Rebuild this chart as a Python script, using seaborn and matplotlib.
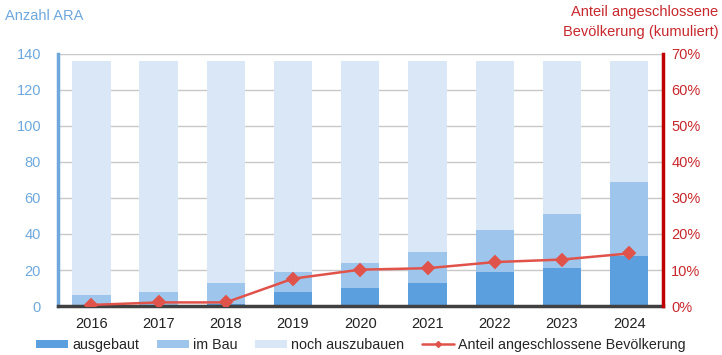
import matplotlib
matplotlib.use("Agg")
import matplotlib.pyplot as plt
import seaborn as sns
import pandas as pd
import numpy as np
from matplotlib.patches import Patch
from matplotlib.lines import Line2D

years = ["2016", "2017", "2018", "2019", "2020", "2021", "2022", "2023", "2024"]
ausgebaut = [0, 0, 1, 8, 10, 13, 19, 21, 28]
im_bau = [6, 8, 12, 11, 14, 17, 23, 30, 41]
noch_auszubauen = [130, 128, 123, 117, 112, 106, 94, 85, 67]
anteil = [0.3, 1.0, 1.0, 7.6, 10.1, 10.5, 12.2, 12.9, 14.6]

left_ticks = [0, 20, 40, 60, 80, 100, 120, 140]
right_ticks = [0, 10, 20, 30, 40, 50, 60, 70]

c_aus = "#5B9FDE"
c_bau = "#9EC6EC"
c_noch = "#D9E7F6"
c_line = "#E0534B"
c_left = "#6FA8DC"
c_right = "#C8282D"

df = pd.DataFrame({
    "Jahr": years,
    "ausgebaut": ausgebaut,
    "im_bau": im_bau,
    "noch": noch_auszubauen,
    "anteil": anteil,
})
df["cum_bau"] = df["ausgebaut"] + df["im_bau"]
df["cum_total"] = df["cum_bau"] + df["noch"]

sns.set_theme(style="white")
plt.rcParams["font.family"] = ["Liberation Sans", "DejaVu Sans"]

fig = plt.figure(figsize=(7.22, 3.55), dpi=100)
ax = fig.add_axes([0.080, 0.138, 0.838, 0.710])

bw = 0.57
sns.barplot(data=df, x="Jahr", y="cum_total", color=c_noch, width=bw, ax=ax,
            saturation=1, linewidth=0, zorder=2)
sns.barplot(data=df, x="Jahr", y="cum_bau", color=c_bau, width=bw, ax=ax,
            saturation=1, linewidth=0, zorder=2)
sns.barplot(data=df, x="Jahr", y="ausgebaut", color=c_aus, width=bw, ax=ax,
            saturation=1, linewidth=0, zorder=2)

ax.set_ylim(0, 140)
ax.set_xlim(-0.5, len(years) - 0.5)
ax.set_yticks(left_ticks)
ax.set_yticklabels([str(t) for t in left_ticks], color=c_left, fontsize=10.5)
ax.set_xlabel("")
ax.set_ylabel("")
ax.tick_params(axis="x", labelsize=10.5, colors="#222222", length=0, pad=8)
ax.tick_params(axis="y", length=0, pad=12)
ax.yaxis.grid(True, color="#C8C8C8", linewidth=1.0, zorder=0)
ax.set_axisbelow(True)

ax.spines["top"].set_visible(False)
ax.spines["left"].set_color(c_left)
ax.spines["left"].set_linewidth(2.5)
ax.spines["right"].set_visible(False)
ax.spines["bottom"].set_color("#404040")
ax.spines["bottom"].set_linewidth(2.5)

ax2 = ax.twinx()
sns.pointplot(data=df, x="Jahr", y="anteil", color=c_line, markers="D",
              linestyles="-", ax=ax2, markersize=6, linewidth=1.8, zorder=5)
ax2.set_ylim(0, 70)
ax2.set_xlim(-0.5, len(years) - 0.5)
ax2.set_yticks(right_ticks)
ax2.set_yticklabels([f"{t}%" for t in right_ticks], color=c_right, fontsize=10.5)
ax2.tick_params(axis="y", length=0, pad=6)
ax2.set_ylabel("")
ax2.set_xlabel("")
ax2.grid(False)
for s in ["top", "left", "bottom"]:
    ax2.spines[s].set_visible(False)
ax2.spines["right"].set_color("#C00000")
ax2.spines["right"].set_linewidth(2.5)

fig.text(0.007, 0.955, "Anzahl ARA", color=c_left, fontsize=10.5,
         ha="left", va="center")
fig.text(0.995, 0.965, "Anteil angeschlossene", color=c_right, fontsize=10.5,
         ha="right", va="center")
fig.text(0.995, 0.910, "Bevölkerung (kumuliert)", color=c_right, fontsize=10.5,
         ha="right", va="center")

handles = [
    Patch(facecolor=c_aus, edgecolor="none"),
    Patch(facecolor=c_bau, edgecolor="none"),
    Patch(facecolor=c_noch, edgecolor="none"),
    Line2D([0], [0], color=c_line, marker="D", markersize=3, linewidth=1.8),
]
labels = ["ausgebaut", "im Bau", "noch auszubauen", "Anteil angeschlossene Bevölkerung"]
fig.legend(handles, labels, loc="center", bbox_to_anchor=(0.5, 0.028), ncol=4,
           frameon=False, fontsize=10.3, handlelength=2.25, handleheight=0.5,
           handletextpad=0.3, columnspacing=1.2, borderpad=0, borderaxespad=0)

fig.savefig("out.png", dpi=100)
